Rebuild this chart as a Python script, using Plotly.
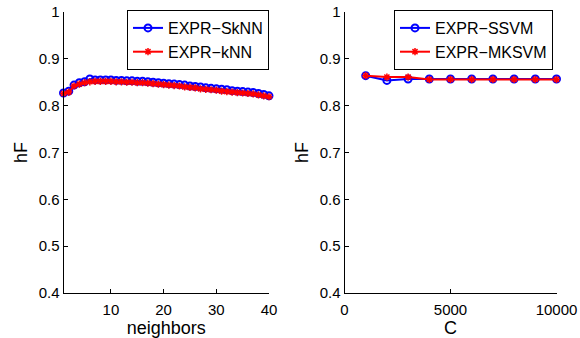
import plotly.graph_objects as go

# neighbors sweep (k = 1..40)
neighbors = list(range(1, 41))
hf_sknn = [0.827, 0.831, 0.844, 0.849, 0.851, 0.857, 0.855, 0.855, 0.855, 0.855,
           0.854, 0.854, 0.853, 0.853, 0.852, 0.852, 0.851, 0.850, 0.849, 0.848,
           0.847, 0.846, 0.845, 0.844, 0.842, 0.841, 0.840, 0.838, 0.837, 0.836,
           0.835, 0.834, 0.832, 0.831, 0.830, 0.829, 0.828, 0.826, 0.824, 0.821]
hf_knn = [0.826, 0.829, 0.842, 0.846, 0.849, 0.851, 0.852, 0.852, 0.852, 0.852,
          0.851, 0.851, 0.850, 0.850, 0.849, 0.849, 0.848, 0.847, 0.846, 0.845,
          0.844, 0.843, 0.842, 0.840, 0.839, 0.838, 0.836, 0.835, 0.834, 0.833,
          0.831, 0.830, 0.829, 0.828, 0.827, 0.826, 0.825, 0.823, 0.821, 0.819]

# C sweep
c_values = [1000, 2000, 3000, 4000, 5000, 6000, 7000, 8000, 9000, 10000]
hf_ssvm = [0.864, 0.854, 0.857, 0.857, 0.857, 0.857, 0.857, 0.857, 0.857, 0.857]
hf_mksvm = [0.864, 0.861, 0.861, 0.856, 0.856, 0.856, 0.856, 0.856, 0.856, 0.856]

left_ticks_x = [10, 20, 30, 40]
right_ticks_x = [0, 5000, 10000]
right_labels_x = ["0", "5000", "10000"]
y_ticks = [0.4, 0.5, 0.6, 0.7, 0.8, 0.9, 1]
y_labels = ["0.4", "0.5", "0.6", "0.7", "0.8", "0.9", "1"]

FONT = "Liberation Sans, Arial, sans-serif"
BLUE = "#0000ff"
RED = "#ff0000"


def series(x, y, name, color, symbol, xa, ya, leg):
    if symbol == "circle-open":
        marker = dict(symbol=symbol, size=7, color=color, line=dict(width=2, color=color))
    else:
        marker = dict(symbol=symbol, size=6, color=color, line=dict(width=1.5, color=color))
    return go.Scatter(x=x, y=y, name=name, mode="lines+markers",
                      line=dict(color=color, width=2), marker=marker,
                      cliponaxis=False, xaxis=xa, yaxis=ya, legend=leg)


fig = go.Figure()
fig.add_trace(series(neighbors, hf_sknn, "EXPR\u2212SkNN", BLUE, "circle-open", "x", "y", "legend"))
fig.add_trace(series(neighbors, hf_knn, "EXPR\u2212kNN", RED, "asterisk-open", "x", "y", "legend"))
fig.add_trace(series(c_values, hf_ssvm, "EXPR\u2212SSVM", BLUE, "circle-open", "x2", "y2", "legend2"))
fig.add_trace(series(c_values, hf_mksvm, "EXPR\u2212MKSVM", RED, "asterisk-open", "x2", "y2", "legend2"))

axis_common = dict(
    showgrid=False, zeroline=False, showline=True, linecolor="black", linewidth=1,
    ticks="inside", ticklen=4, tickcolor="black", tickwidth=1,
    tickfont=dict(family=FONT, size=15, color="black"), mirror=False,
    automargin=False,
)
xtitle_font = dict(size=18, family=FONT, color="black")
ytitle_font = dict(size=18, family=FONT, color="black")

y_dom = [45 / 338, 1 - 12 / 338]

legend_common = dict(
    xanchor="left", yanchor="top", bordercolor="black", borderwidth=1, bgcolor="white",
    font=dict(family=FONT, size=16, color="black"), itemwidth=30, tracegroupgap=0,
)

fig.update_layout(
    width=580, height=338,
    margin=dict(l=0, r=0, t=0, b=0, autoexpand=False),
    paper_bgcolor="white", plot_bgcolor="white",
    font=dict(family=FONT, color="black"),
    xaxis=dict(axis_common, domain=[63.5 / 580, 269 / 580], range=[1, 40],
               tickvals=left_ticks_x, anchor="y", ticklabelstandoff=3,
               title=dict(text="neighbors", font=xtitle_font, standoff=5)),
    yaxis=dict(axis_common, domain=y_dom, range=[0.4, 1], tickvals=y_ticks,
               ticktext=y_labels, anchor="x",
               title=dict(text="hF", font=ytitle_font, standoff=6)),
    xaxis2=dict(axis_common, domain=[344.5 / 580, 556.5 / 580], range=[0, 10000],
                tickvals=right_ticks_x, ticktext=right_labels_x, anchor="y2",
                ticklabelstandoff=3,
                title=dict(text="C", font=xtitle_font, standoff=5)),
    yaxis2=dict(axis_common, domain=y_dom, range=[0.4, 1], tickvals=y_ticks,
                ticktext=y_labels, anchor="x2",
                title=dict(text="hF", font=ytitle_font, standoff=6)),
    legend=dict(legend_common, x=127 / 580, y=1 - 10 / 338),
    legend2=dict(legend_common, x=394 / 580, y=1 - 10 / 338),
    showlegend=True,
)

fig.write_html("out.html")
